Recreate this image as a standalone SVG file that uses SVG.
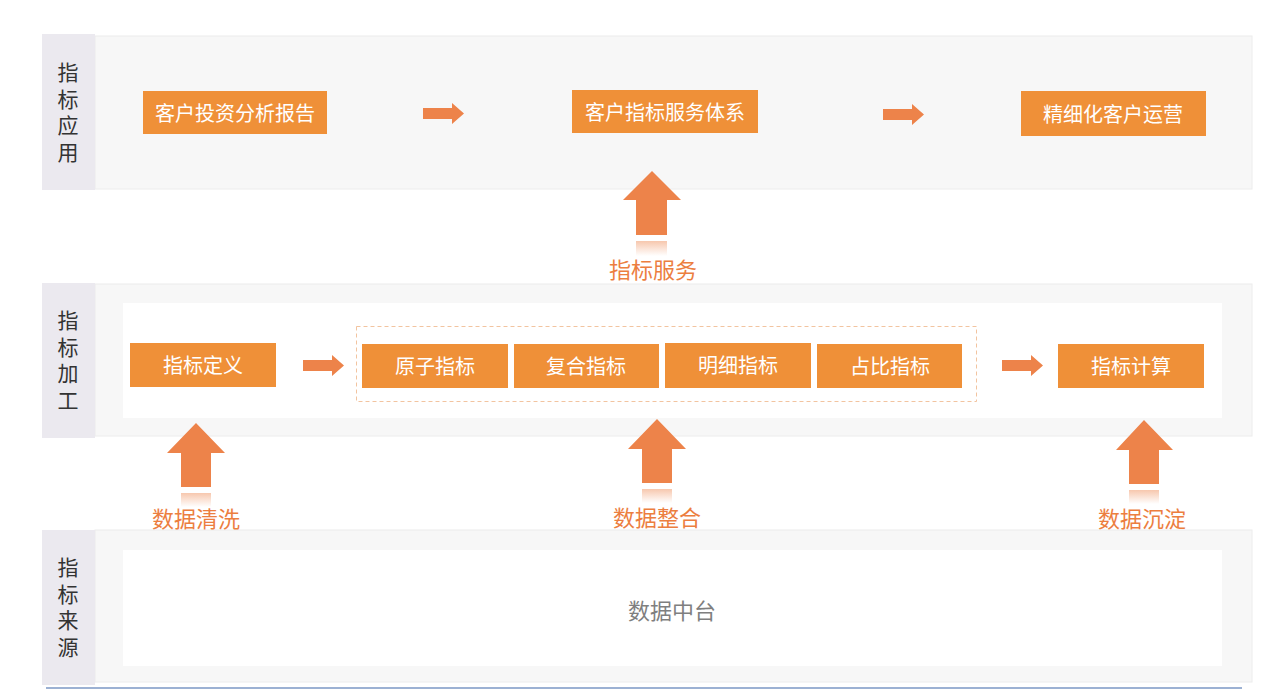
<svg xmlns="http://www.w3.org/2000/svg" width="1269" height="689" viewBox="0 0 1269 689">
<defs>
<style>
.band{fill:#f7f7f7;stroke:#ececec;stroke-width:1}
.lab{fill:#ebe9ef}
.panel{fill:#ffffff}
.box{fill:#ef9038}
.bt{font-family:"Noto Sans CJK SC","Liberation Sans",sans-serif;font-size:20px;fill:#ffffff;text-anchor:middle;dominant-baseline:central}
.vt{font-family:"Noto Sans CJK SC","Liberation Sans",sans-serif;font-size:21px;fill:#333333;text-anchor:middle;writing-mode:vertical-rl;letter-spacing:5.5px}
.ot{font-family:"Noto Sans CJK SC","Liberation Sans",sans-serif;font-size:22px;fill:#ec7e3f;text-anchor:middle;dominant-baseline:central}
.gt{font-family:"Noto Sans CJK SC","Liberation Sans",sans-serif;font-size:22px;fill:#7f7f7f;text-anchor:middle;dominant-baseline:central}
.arr{fill:#ed834a}
</style>
<linearGradient id="refl" x1="0" y1="0" x2="0" y2="1">
<stop offset="0" stop-color="#ed834a" stop-opacity="0.45"/>
<stop offset="1" stop-color="#ed834a" stop-opacity="0"/>
</linearGradient>
</defs>
<rect width="1269" height="689" fill="#ffffff"/>

<g id="layer-app">
<rect class="band" x="95" y="36" width="1157" height="153"/>
<rect class="lab" x="42" y="34" width="53" height="156"/>
<text class="vt" x="68" y="115">指标应用</text>
</g>
<g id="layer-proc">
<rect class="band" x="95" y="284" width="1157" height="152"/>
<rect class="lab" x="42" y="283" width="53" height="155"/>
<rect class="panel" x="123" y="303" width="1099" height="115"/>
<text class="vt" x="68" y="363">指标加工</text>
</g>
<g id="layer-src">
<rect class="band" x="95" y="530" width="1157" height="152"/>
<rect class="lab" x="42" y="530" width="53" height="155"/>
<rect class="panel" x="123" y="550" width="1099" height="116"/>
<text class="vt" x="68" y="610">指标来源</text>
</g>
<line x1="46" y1="688" x2="1242" y2="688" stroke="#7b97c4" stroke-width="1.5"/>

<g id="n-report"><rect class="box" x="143" y="91" width="184" height="43"/><text class="bt" x="235" y="112">客户投资分析报告</text></g>
<g id="n-service"><rect class="box" x="572" y="90" width="186" height="43"/><text class="bt" x="665" y="111">客户指标服务体系</text></g>
<g id="n-ops"><rect class="box" x="1021" y="91" width="185" height="45"/><text class="bt" x="1113" y="113">精细化客户运营</text></g>

<g id="n-def"><rect class="box" x="130" y="343" width="146" height="44"/><text class="bt" x="203" y="364">指标定义</text></g>
<g id="group-types">
<rect x="356.5" y="326.5" width="620" height="75" fill="none" stroke="#f2c4a0" stroke-width="1" stroke-dasharray="4,3"/>
</g>
<g id="n-atom"><rect class="box" x="362" y="344" width="146" height="44"/><text class="bt" x="435" y="365">原子指标</text></g>
<g id="n-comp"><rect class="box" x="514" y="344" width="145" height="44"/><text class="bt" x="586" y="365">复合指标</text></g>
<g id="n-detail"><rect class="box" x="665" y="343" width="146" height="45"/><text class="bt" x="738" y="364">明细指标</text></g>
<g id="n-ratio"><rect class="box" x="817" y="344" width="145" height="44"/><text class="bt" x="890" y="365">占比指标</text></g>
<g id="n-calc"><rect class="box" x="1058" y="344" width="146" height="44"/><text class="bt" x="1131" y="365">指标计算</text></g>

<g id="n-platform"><text class="gt" x="672" y="609">数据中台</text></g>

<g id="connectors">
<path class="arr" d="M423,108H452V103L464,113.5L452,124V119H423Z"/>
<path class="arr" d="M883,109H912V104L924,114.5L912,125V120H883Z"/>
<path class="arr" d="M303,360H332V355L344,365.5L332,376V371H303Z"/>
<path class="arr" d="M1002,360H1031V355L1043,365.5L1031,376V371H1002Z"/>

<path class="arr" d="M652,171L681,200H667V235H636V200H623Z"/>
<rect x="636" y="241" width="31" height="15" fill="url(#refl)"/>
<text class="ot" x="653" y="268">指标服务</text>

<path class="arr" d="M196,423L225,453H211V487H181V453H167Z"/>
<rect x="181" y="493" width="30" height="14" fill="url(#refl)"/>
<text class="ot" x="196" y="517">数据清洗</text>

<path class="arr" d="M657,419L686,449H672V483H642V449H628Z"/>
<rect x="642" y="489" width="30" height="14" fill="url(#refl)"/>
<text class="ot" x="657" y="516">数据整合</text>

<path class="arr" d="M1144,420L1173,450H1159V484H1129V450H1116Z"/>
<rect x="1129" y="490" width="30" height="14" fill="url(#refl)"/>
<text class="ot" x="1142" y="517">数据沉淀</text>
</g>
</svg>
